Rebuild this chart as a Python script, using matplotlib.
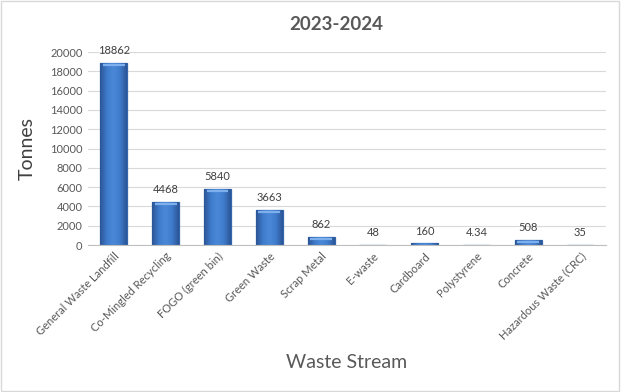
import matplotlib
matplotlib.use("Agg")
import matplotlib.pyplot as plt
import matplotlib.transforms as mtransforms
import numpy as np
from matplotlib.patches import Rectangle
from matplotlib.colors import LinearSegmentedColormap

categories = ["General Waste Landfill", "Co-Mingled Recycling", "FOGO (green bin)",
              "Green Waste", "Scrap Metal", "E-waste", "Cardboard", "Polystyrene",
              "Concrete", "Hazardous Waste (CRC)"]
values = [18862, 4468, 5840, 3663, 862, 48, 160, 4.34, 508, 35]
labels = ["18862", "4468", "5840", "3663", "862", "48", "160", "4.34", "508", "35"]
yticks = [0, 2000, 4000, 6000, 8000, 10000, 12000, 14000, 16000, 18000, 20000]

plt.rcParams['font.family'] = ['Lato', 'DejaVu Sans']

fig = plt.figure(figsize=(6.21, 3.92), dpi=100)
ax = fig.add_axes([0.1417, 0.375, 0.834, 0.492])

x = np.arange(len(categories))
bars = ax.bar(x, values, width=0.52, color="#3F78C8", edgecolor="#3466AE",
              linewidth=0.9, zorder=3)

cmap = LinearSegmentedColormap.from_list(
    "bev", ["#2B5595", "#3F7BCB", "#4A88D8", "#3F7BCB", "#2B5595"])
grad = np.linspace(0, 1, 64).reshape(1, -1)
for b in bars:
    bx, by = b.get_x(), b.get_y()
    bw, bh = b.get_width(), b.get_height()
    im = ax.imshow(grad, cmap=cmap, aspect="auto", extent=(bx, bx + bw, by, by + bh),
                   zorder=3.5, interpolation="bilinear")
    im.set_clip_path(b)
ax.set_aspect("auto")

# top bevel highlight
off = mtransforms.ScaledTranslation(0, -1.5 / 72, fig.dpi_scale_trans)
ax.hlines(values, x - 0.21, x + 0.21, color="#7FB0EE", linewidth=1.6, zorder=4,
          transform=ax.transData + off)

for xi, v, lab in zip(x, values, labels):
    ax.annotate(lab, (xi, v), xytext=(0, 5), textcoords="offset points",
                ha="center", va="bottom", fontsize=8, color="#404040")

ax.set_ylim(0, 20000)
ax.set_xlim(-0.5, len(categories) - 0.5)
ax.set_yticks(yticks)
ax.set_yticklabels([str(t) for t in yticks], fontsize=8, color="#595959")
ax.set_xticks(x)
ax.set_xticklabels(categories, rotation=45, ha="right", rotation_mode="anchor",
                   fontsize=8, color="#595959")
ax.tick_params(axis="both", length=0, pad=4)
ax.grid(axis="y", color="#D9D9D9", linewidth=0.8, zorder=0)
for s in ["top", "right", "left"]:
    ax.spines[s].set_visible(False)
ax.spines["bottom"].set_color("#BFBFBF")
ax.spines["bottom"].set_zorder(5)

ax.set_ylabel("Tonnes", fontsize=14, color="#404040", labelpad=10)
fig.text(0.5588, 0.074, "Waste Stream", fontsize=14, color="#595959", ha="center", va="center")
fig.text(0.542, 0.937, "2023-2024", fontsize=13.5, fontweight="bold", color="#595959",
         ha="center", va="center")

fig.patches.append(Rectangle((0.002, 0.003), 0.995, 0.994, transform=fig.transFigure,
                             fill=False, edgecolor="#D9D9D9", linewidth=1))

fig.savefig("out.png", dpi=100, facecolor="white")
